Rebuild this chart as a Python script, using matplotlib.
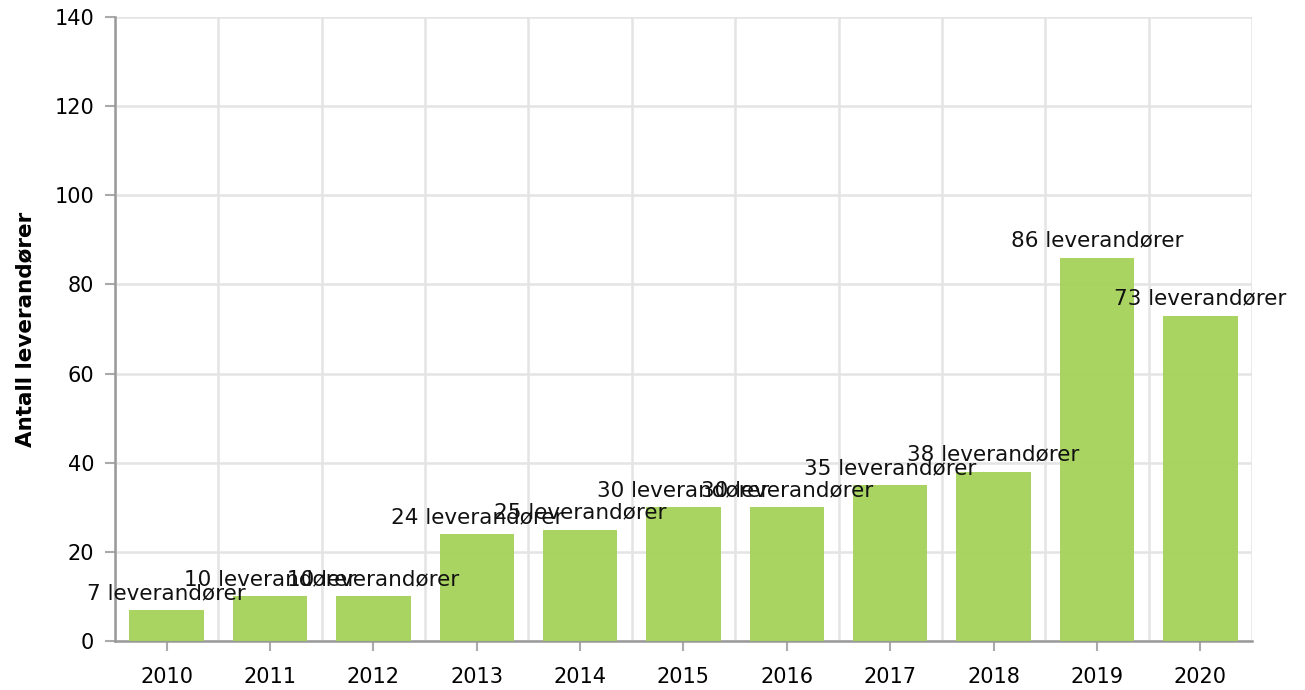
import numpy as np
from matplotlib import pyplot as plt

years = ['2010', '2011', '2012', '2013', '2014', '2015', '2016', '2017', '2018', '2019', '2020']
counts = [7, 10, 10, 24, 25, 30, 30, 35, 38, 86, 73]
y_ticks = [0, 20, 40, 60, 80, 100, 120, 140]

plt.rcParams['font.family'] = ['DejaVu Sans']

fig = plt.figure(figsize=(13.05, 6.9), dpi=100)
ax = fig.add_axes([115 / 1305, 49 / 690, (1252 - 115) / 1305, (641 - 17) / 690])

x = np.arange(len(years))
bars = ax.bar(x, counts, width=0.72, color='#a6d25a', alpha=0.95, zorder=3)

# labels sit just above each bar, overlapping like in the original
for xi, v in zip(x, counts):
    ax.annotate(f'{v} leverandører', (xi, v), xytext=(0, 5), textcoords='offset points',
                ha='center', va='bottom', fontsize=15.5, color='#111111', zorder=4)

ax.set_xlim(-0.5, len(years) - 0.5)
ax.set_ylim(0, 140)
ax.set_yticks(y_ticks)
ax.set_xticks(x)
ax.set_xticklabels(years)
ax.set_xticks(np.arange(-0.5, len(years)), minor=True)

ax.grid(True, which='minor', axis='x', color='#e4e4e4', linewidth=1.8, zorder=0)
ax.grid(True, which='major', axis='y', color='#e4e4e4', linewidth=1.8, zorder=0)
ax.tick_params(axis='x', which='minor', length=0)
ax.tick_params(axis='x', which='major', length=7, width=1.5, color='#aaaaaa', labelsize=15, pad=12)
ax.tick_params(axis='y', length=7, width=1.5, color='#aaaaaa', labelsize=15, pad=8)

for s in ['top', 'right']:
    ax.spines[s].set_color('none')
for s in ['left', 'bottom']:
    ax.spines[s].set_color('#999999')
    ax.spines[s].set_linewidth(1.8)

ax.set_ylabel('Antall leverandører', fontsize=15.5, fontweight='bold', labelpad=14)

fig.savefig('out.png', dpi=100)
